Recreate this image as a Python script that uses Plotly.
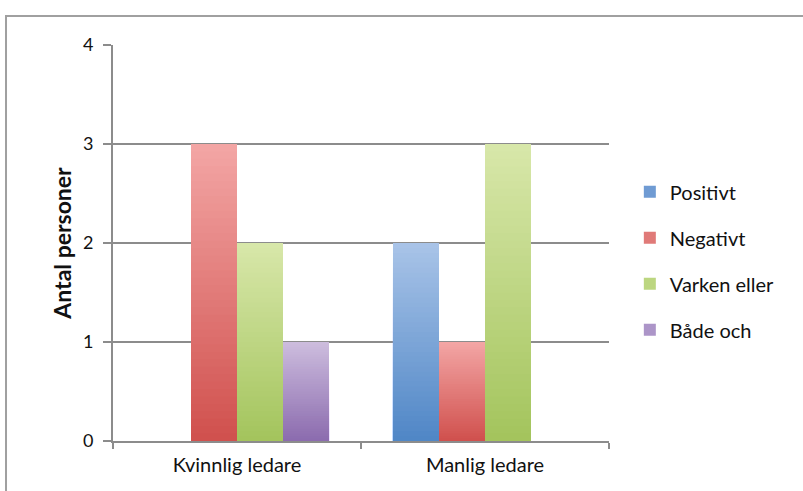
import plotly.graph_objects as go

categories = ["Kvinnlig ledare", "Manlig ledare"]
series_names = ["Positivt", "Negativt", "Varken eller", "Både och"]
positivt = [0, 2]
negativt = [3, 1]
varken_eller = [2, 3]
bade_och = [1, 0]
series_values = [positivt, negativt, varken_eller, bade_och]
y_ticks = [0, 1, 2, 3, 4]

# gradient colours (top, bottom) per series
grad = [
    ("#a9c4e8", "#4f86c6"),
    ("#f3a6a5", "#d0504d"),
    ("#d8e7aa", "#a3c45c"),
    ("#cdbdde", "#8b6bae"),
]
legend_col = ["#6f9bd3", "#e07a78", "#bcd680", "#ac95c8"]


def hex2rgb(h):
    h = h.lstrip("#")
    return [int(h[i:i + 2], 16) for i in (0, 2, 4)]


def mix(top, bot, t):
    a, b = hex2rgb(bot), hex2rgb(top)
    c = [round(a[i] + (b[i] - a[i]) * t) for i in range(3)]
    return "rgb(%d,%d,%d)" % tuple(c)


N = 40
fig = go.Figure()
for s, (name, vals) in enumerate(zip(series_names, series_values)):
    top, bot = grad[s]
    # legend-only entry
    fig.add_trace(go.Bar(
        x=categories, y=[None, None], name=name, offsetgroup=str(s),
        legendgroup=name, marker=dict(color=legend_col[s], line=dict(width=0)),
        showlegend=True, hoverinfo="skip"))
    for k in range(N, 0, -1):
        frac = k / N
        fig.add_trace(go.Bar(
            x=categories, y=[v * frac for v in vals], name=name,
            offsetgroup=str(s), legendgroup=name, showlegend=False,
            marker=dict(color=mix(top, bot, (k - 0.5) / N), line=dict(width=0)),
            hoverinfo="skip" if k < N else None))

font_family = "Lato, 'Open Sans', sans-serif"
fig.update_layout(
    width=803, height=491,
    margin=dict(l=113, r=194, t=45, b=50),
    paper_bgcolor="white", plot_bgcolor="white",
    barmode="group", bargap=0.258, bargroupgap=0,
    font=dict(family=font_family, size=18, color="#111111"),
    showlegend=True,
    legend=dict(x=1.042, xanchor="left", y=0.455, yanchor="middle",
                tracegroupgap=17, font=dict(size=20, color="#111111"),
                itemwidth=30),
    xaxis=dict(showline=True, linecolor="#8c8c8c", linewidth=2,
               ticks="outside", tickson="boundaries", ticklen=6,
               tickcolor="#8c8c8c", tickwidth=2,
               tickfont=dict(size=20), showgrid=False,
               ticklabelstandoff=5),
    yaxis=dict(range=[0, 4], tickvals=y_ticks, showline=True,
               linecolor="#8c8c8c", linewidth=2, ticks="outside",
               ticklen=8, tickcolor="#8c8c8c", tickwidth=2,
               showgrid=True, gridcolor="#8c8c8c", gridwidth=2,
               zeroline=False, tickfont=dict(size=18),
               ticklabelstandoff=6,
               title=dict(text="<b>Antal personer</b>",
                          font=dict(size=23), standoff=5)),
    shapes=[dict(type="rect", xref="paper", yref="paper",
                 x0=-0.2157, x1=1.6, y0=-0.3, y1=1.0732,
                 line=dict(color="#a0a0a0", width=2), layer="below")],
)

fig.write_html("out.html")
